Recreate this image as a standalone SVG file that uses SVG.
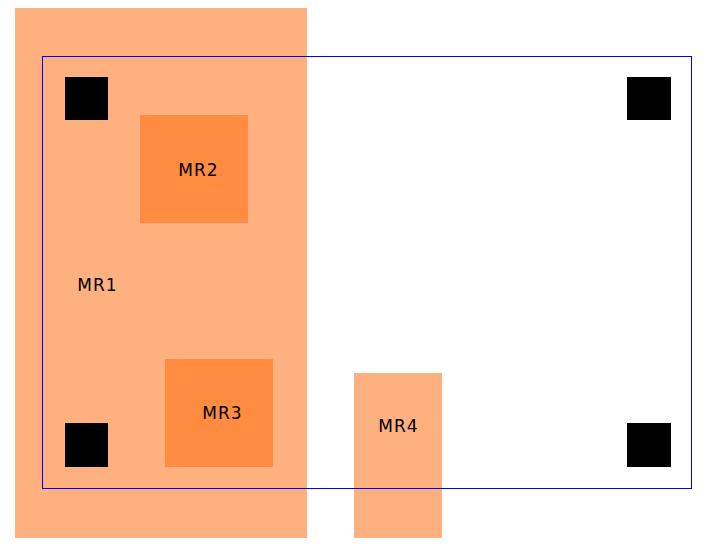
<svg xmlns="http://www.w3.org/2000/svg" width="712" height="554" viewBox="0 0 712 554">
<style>
.light{fill:#ffb07f}
.dark{fill:#ff8c40}
.pad{fill:#000}
.lbl{font-family:"DejaVu Sans",sans-serif;font-size:17px;letter-spacing:1px;fill:#000;text-anchor:middle}
.frame{fill:none;stroke:#0000ff;stroke-width:1}
</style>
<rect width="712" height="554" fill="#fff"/>
<g id="MR1"><rect class="light" x="15" y="8" width="292" height="530"/><text class="lbl" x="97.5" y="291">MR1</text></g>
<g id="MR4"><rect class="light" x="354" y="373" width="88" height="165"/><text class="lbl" x="398.5" y="432">MR4</text></g>
<g id="MR2"><rect class="dark" x="140" y="115" width="108" height="108"/><text class="lbl" x="198.5" y="176">MR2</text></g>
<g id="MR3"><rect class="dark" x="165" y="359" width="108" height="108"/><text class="lbl" x="222.5" y="419">MR3</text></g>
<g id="pads">
<rect class="pad" x="65" y="77" width="43" height="43"/>
<rect class="pad" x="65" y="423" width="43" height="44"/>
<rect class="pad" x="627" y="77" width="44" height="43"/>
<rect class="pad" x="627" y="423" width="44" height="44"/>
</g>
<g id="connectors"></g>
<g id="frame"><rect class="frame" x="42.5" y="56.5" width="649" height="432"/></g>
</svg>
